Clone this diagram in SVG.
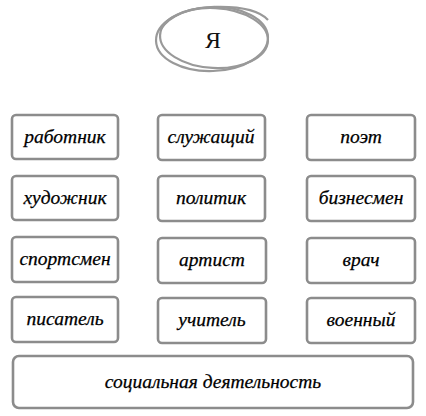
<svg xmlns="http://www.w3.org/2000/svg" width="426" height="416" viewBox="0 0 426 416">
<style>
.box{fill:#fff;stroke:#8c8c8c;stroke-width:2.6}
.lbl{font-family:"Liberation Serif","DejaVu Serif",serif;font-style:italic;font-size:19.5px;fill:#000;stroke:#000;stroke-width:0.25;text-anchor:middle}
.ell{fill:none;stroke:#999;stroke-width:2.2}
</style>
<rect width="426" height="416" fill="#fff"/>
<g id="ya">
<ellipse class="ell" cx="212" cy="39" rx="56" ry="32" transform="rotate(-2 212 39)"/>
<ellipse class="ell" cx="214" cy="38" rx="54" ry="30" transform="rotate(3 214 38)" stroke-width="1.5"/>
<path class="ell" d="M160 30 Q175 8 215 7 Q255 6 268 20" stroke-width="3"/>
<text x="213" y="48" font-family="Liberation Serif,DejaVu Serif,serif" font-size="24" fill="#111" text-anchor="middle">Я</text>
</g>
<g id="n1"><rect class="box" x="12" y="115" width="106" height="44" rx="4"/><text class="lbl" x="65" y="143">работник</text></g>
<g id="n2"><rect class="box" x="158" y="115" width="107" height="45" rx="4"/><text class="lbl" x="211" y="143">служащий</text></g>
<g id="n3"><rect class="box" x="307" y="115" width="108" height="45" rx="4"/><text class="lbl" x="361" y="143">поэт</text></g>
<g id="n4"><rect class="box" x="12" y="176" width="106" height="44" rx="4"/><text class="lbl" x="65" y="204">художник</text></g>
<g id="n5"><rect class="box" x="158" y="176" width="107" height="45" rx="4"/><text class="lbl" x="211" y="204">политик</text></g>
<g id="n6"><rect class="box" x="307" y="176" width="108" height="45" rx="4"/><text class="lbl" x="361" y="204">бизнесмен</text></g>
<g id="n7"><rect class="box" x="12" y="237" width="106" height="45" rx="4"/><text class="lbl" x="65" y="265">спортсмен</text></g>
<g id="n8"><rect class="box" x="158" y="238" width="108" height="45" rx="4"/><text class="lbl" x="212" y="266">артист</text></g>
<g id="n9"><rect class="box" x="307" y="238" width="108" height="45" rx="4"/><text class="lbl" x="361" y="266">врач</text></g>
<g id="n10"><rect class="box" x="12" y="297" width="106" height="45" rx="4"/><text class="lbl" x="65" y="325">писатель</text></g>
<g id="n11"><rect class="box" x="158" y="298" width="108" height="45" rx="4"/><text class="lbl" x="212" y="326">учитель</text></g>
<g id="n12"><rect class="box" x="307" y="298" width="108" height="45" rx="4"/><text class="lbl" x="361" y="326">военный</text></g>
<g id="n13"><rect class="box" x="13" y="356" width="400" height="52" rx="6"/><text class="lbl" x="213" y="388">социальная деятельность</text></g>
<g id="connectors"></g>
</svg>
